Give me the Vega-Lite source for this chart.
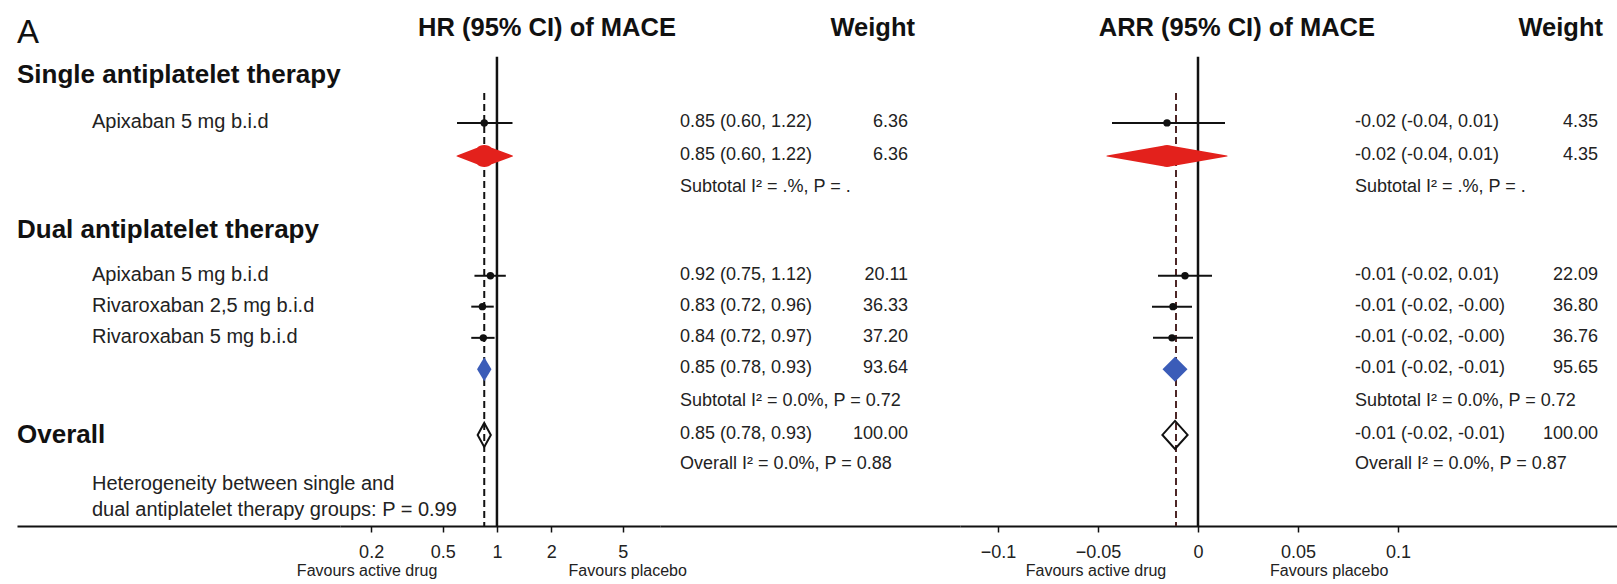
{
  "$schema": "https://vega.github.io/schema/vega-lite/v6.json",
  "background": "white",
  "padding": {"left": 17, "top": 0, "right": 0, "bottom": 0},
  "bounds": "flush",
  "spacing": 0,
  "config": {
    "view": {"stroke": null},
    "font": "Liberation Sans",
    "axis": {"grid": false, "domainColor": "#111", "domainWidth": 2, "tickColor": "#111", "tickWidth": 1.5, "tickSize": 6, "labelFont": "Liberation Sans", "labelFontSize": 18, "labelColor": "#222", "labelPadding": 11}
  },
  "datasets": {
    "labels": [
      {"row": -1.85, "text": "A", "kind": "letter"},
      {"row": -0.52, "text": "Single antiplatelet therapy", "kind": "group"},
      {"row": 1, "text": "Apixaban 5 mg b.i.d", "kind": "item"},
      {"row": 4.4, "text": "Dual antiplatelet therapy", "kind": "group"},
      {"row": 5.85, "text": "Apixaban 5 mg b.i.d", "kind": "item"},
      {"row": 6.83, "text": "Rivaroxaban 2,5 mg b.i.d", "kind": "item"},
      {"row": 7.82, "text": "Rivaroxaban 5 mg b.i.d", "kind": "item"},
      {"row": 10.9, "text": "Overall", "kind": "group"},
      {"row": 12.5, "text": "Heterogeneity between single and", "kind": "item"},
      {"row": 13.3, "text": "dual antiplatelet therapy groups: P = 0.99", "kind": "item"}
    ],
    "hrStudies": [
      {"row": 1, "est": 0.85, "lo": 0.60, "hi": 1.22},
      {"row": 5.85, "est": 0.92, "lo": 0.75, "hi": 1.12},
      {"row": 6.83, "est": 0.83, "lo": 0.72, "hi": 0.96},
      {"row": 7.82, "est": 0.84, "lo": 0.72, "hi": 0.97}
    ],
    "hrRed": [
      {"row": 2.05, "x": 0.60, "v": "end"},
      {"row": 2.05, "x": 0.85, "v": "mid"},
      {"row": 2.05, "x": 1.22, "v": "end"}
    ],
    "hrPooled": [
      {"row": 8.82, "est": 0.85, "kind": "dual"},
      {"row": 10.9, "est": 0.85, "kind": "overall"}
    ],
    "hrText": [
      {"row": 1, "est": "0.85 (0.60, 1.22)", "w": "6.36"},
      {"row": 2.05, "est": "0.85 (0.60, 1.22)", "w": "6.36"},
      {"row": 3.08, "est": "Subtotal  I² = .%, P = ."},
      {"row": 5.85, "est": "0.92 (0.75, 1.12)", "w": "20.11"},
      {"row": 6.83, "est": "0.83 (0.72, 0.96)", "w": "36.33"},
      {"row": 7.82, "est": "0.84 (0.72, 0.97)", "w": "37.20"},
      {"row": 8.82, "est": "0.85 (0.78, 0.93)", "w": "93.64"},
      {"row": 9.87, "est": "Subtotal  I² = 0.0%, P = 0.72"},
      {"row": 10.9, "est": "0.85 (0.78, 0.93)", "w": "100.00"},
      {"row": 11.87, "est": "Overall  I² = 0.0%, P = 0.88"}
    ],
    "arrStudies": [
      {"row": 1, "est": -0.0155, "lo": -0.043, "hi": 0.0135},
      {"row": 5.85, "est": -0.0065, "lo": -0.020, "hi": 0.007},
      {"row": 6.83, "est": -0.0125, "lo": -0.023, "hi": -0.003},
      {"row": 7.82, "est": -0.013, "lo": -0.0225, "hi": -0.0025}
    ],
    "arrRed": [
      {"row": 2.05, "x": -0.0455, "v": "end"},
      {"row": 2.05, "x": -0.0155, "v": "mid"},
      {"row": 2.05, "x": 0.0145, "v": "end"}
    ],
    "arrPooled": [
      {"row": 8.82, "est": -0.0115, "kind": "dual"},
      {"row": 10.9, "est": -0.0115, "kind": "overall"}
    ],
    "arrText": [
      {"row": 1, "est": "-0.02 (-0.04, 0.01)", "w": "4.35"},
      {"row": 2.05, "est": "-0.02 (-0.04, 0.01)", "w": "4.35"},
      {"row": 3.08, "est": "Subtotal  I² = .%, P = ."},
      {"row": 5.85, "est": "-0.01 (-0.02, 0.01)", "w": "22.09"},
      {"row": 6.83, "est": "-0.01 (-0.02, -0.00)", "w": "36.80"},
      {"row": 7.82, "est": "-0.01 (-0.02, -0.00)", "w": "36.76"},
      {"row": 8.82, "est": "-0.01 (-0.02, -0.01)", "w": "95.65"},
      {"row": 9.87, "est": "Subtotal  I² = 0.0%, P = 0.72"},
      {"row": 10.9, "est": "-0.01 (-0.02, -0.01)", "w": "100.00"},
      {"row": 11.87, "est": "Overall  I² = 0.0%, P = 0.87"}
    ]
  },
  "hconcat": [
    {
      "width": 323, "height": 526,
      "data": {"name": "labels"},
      "layer": [
        {
          "transform": [{"filter": "datum.kind === 'group'"}],
          "mark": {"type": "text", "align": "left", "baseline": "middle", "font": "Liberation Sans", "fontSize": 26, "fontWeight": "bold", "color": "#111"},
          "encoding": {
            "x": {"datum": 0, "type": "quantitative", "scale": {"domain": [0, 1], "nice": false, "zero": false}, "axis": {"labels": false, "ticks": false, "title": null}},
            "y": {"field": "row", "type": "quantitative", "scale": {"domain": [-2.9, 13.79], "reverse": true, "nice": false, "zero": false}, "axis": null},
            "text": {"field": "text"}
          }
        },
        {
          "transform": [{"filter": "datum.kind === 'item'"}],
          "mark": {"type": "text", "align": "left", "baseline": "middle", "font": "Liberation Sans", "fontSize": 20, "color": "#222", "dy": -1},
          "encoding": {
            "x": {"datum": 0.232, "type": "quantitative"},
            "y": {"field": "row", "type": "quantitative"},
            "text": {"field": "text"}
          }
        },
        {
          "transform": [{"filter": "datum.kind === 'letter'"}],
          "mark": {"type": "text", "align": "left", "baseline": "middle", "font": "Liberation Sans", "fontSize": 33, "color": "#111"},
          "encoding": {
            "x": {"datum": 0, "type": "quantitative"},
            "y": {"field": "row", "type": "quantitative"},
            "text": {"field": "text"}
          }
        }
      ]
    },
    {
      "width": 320, "height": 526,
      "layer": [
        {
          "data": {"values": [{}]},
          "mark": {"type": "rule", "color": "#111", "strokeWidth": 2.5},
          "encoding": {
            "x": {"datum": 1, "type": "quantitative", "scale": {"type": "log", "domain": [0.1343, 8.05], "nice": false}, "axis": {"values": [0.2, 0.5, 1, 2, 5], "format": "~g", "title": null}},
            "y": {"datum": -1.1, "type": "quantitative", "scale": {"domain": [-2.9, 13.79], "reverse": true, "nice": false, "zero": false}, "axis": null},
            "y2": {"datum": 13.79}
          }
        },
        {
          "data": {"values": [{}]},
          "mark": {"type": "rule", "color": "#111", "strokeWidth": 2, "strokeDash": [7, 4]},
          "encoding": {
            "x": {"datum": 0.85, "type": "quantitative"},
            "y": {"datum": 0.05, "type": "quantitative"},
            "y2": {"datum": 13.79}
          }
        },
        {
          "data": {"name": "hrStudies"},
          "mark": {"type": "rule", "color": "#111", "strokeWidth": 2},
          "encoding": {
            "x": {"field": "lo", "type": "quantitative", "title": null},
            "x2": {"field": "hi"},
            "y": {"field": "row", "type": "quantitative"}
          }
        },
        {
          "data": {"name": "hrStudies"},
          "mark": {"type": "point", "filled": true, "color": "#111", "size": 55, "opacity": 1},
          "encoding": {
            "x": {"field": "est", "type": "quantitative", "title": null},
            "y": {"field": "row", "type": "quantitative"}
          }
        },
        {
          "data": {"name": "hrRed"},
          "mark": {"type": "trail", "color": "#e3211c"},
          "encoding": {
            "x": {"field": "x", "type": "quantitative", "title": null},
            "y": {"field": "row", "type": "quantitative"},
            "size": {"field": "v", "type": "ordinal", "scale": {"domain": ["end", "mid"], "range": [0, 22]}, "legend": null},
            "order": {"field": "x", "type": "quantitative"}
          }
        },
        {
          "data": {"name": "hrPooled"},
          "transform": [{"filter": "datum.kind === 'dual'"}],
          "mark": {"type": "point", "filled": true, "color": "#3b5cb8", "opacity": 1, "size": 576, "shape": "M0,-1L0.6,0L0,1L-0.6,0Z"},
          "encoding": {
            "x": {"field": "est", "type": "quantitative", "title": null},
            "y": {"field": "row", "type": "quantitative"}
          }
        },
        {
          "data": {"name": "hrPooled"},
          "transform": [{"filter": "datum.kind === 'overall'"}],
          "mark": {"type": "point", "filled": false, "color": "#111", "strokeWidth": 2, "opacity": 1, "size": 576, "shape": "M0,-1L0.55,0L0,1L-0.55,0Z"},
          "encoding": {
            "x": {"field": "est", "type": "quantitative", "title": null},
            "y": {"field": "row", "type": "quantitative"}
          }
        },
        {
          "data": {"values": [{}]},
          "mark": {"type": "text", "font": "Liberation Sans", "fontSize": 16, "color": "#222", "align": "center", "baseline": "middle"},
          "encoding": {
            "x": {"datum": 0.19, "type": "quantitative"},
            "y": {"datum": 15.22, "type": "quantitative"},
            "text": {"value": "Favours active drug"}
          }
        },
        {
          "data": {"values": [{}]},
          "mark": {"type": "text", "font": "Liberation Sans", "fontSize": 16, "color": "#222", "align": "left", "baseline": "middle"},
          "encoding": {
            "x": {"datum": 2.5, "type": "quantitative"},
            "y": {"datum": 15.22, "type": "quantitative"},
            "text": {"value": "Favours placebo"}
          }
        }
      ]
    },
    {
      "width": 300, "height": 526,
      "data": {"name": "hrText"},
      "layer": [
        {
          "mark": {"type": "text", "align": "left", "baseline": "middle", "font": "Liberation Sans", "fontSize": 18, "color": "#222", "dy": -1},
          "encoding": {
            "x": {"datum": 0.0667, "type": "quantitative", "scale": {"domain": [0, 1], "nice": false, "zero": false}, "axis": {"labels": false, "ticks": false, "title": null}},
            "y": {"field": "row", "type": "quantitative", "scale": {"domain": [-2.9, 13.79], "reverse": true, "nice": false, "zero": false}, "axis": null},
            "text": {"field": "est"}
          }
        },
        {
          "transform": [{"filter": "isValid(datum.w)"}],
          "mark": {"type": "text", "align": "right", "baseline": "middle", "font": "Liberation Sans", "fontSize": 18, "color": "#222", "dy": -1},
          "encoding": {
            "x": {"datum": 0.827, "type": "quantitative"},
            "y": {"field": "row", "type": "quantitative"},
            "text": {"field": "w"}
          }
        },
        {
          "data": {"values": [{}]},
          "mark": {"type": "text", "align": "right", "baseline": "middle", "font": "Liberation Sans", "fontSize": 25.5, "fontWeight": "bold", "color": "#111"},
          "encoding": {
            "x": {"datum": 0.053, "type": "quantitative"},
            "y": {"datum": -2.0, "type": "quantitative"},
            "text": {"value": "HR (95% CI) of MACE"}
          }
        },
        {
          "data": {"values": [{}]},
          "mark": {"type": "text", "align": "right", "baseline": "middle", "font": "Liberation Sans", "fontSize": 25.5, "fontWeight": "bold", "color": "#111"},
          "encoding": {
            "x": {"datum": 0.85, "type": "quantitative"},
            "y": {"datum": -2.0, "type": "quantitative"},
            "text": {"value": "Weight"}
          }
        }
      ]
    },
    {
      "width": 657, "height": 526,
      "layer": [
        {
          "data": {"values": [{}]},
          "mark": {"type": "rule", "color": "#111", "strokeWidth": 2.5},
          "encoding": {
            "x": {"datum": 0, "type": "quantitative", "scale": {"domain": [-0.119, 0.2095], "nice": false, "zero": false}, "axis": {"values": [-0.1, -0.05, 0, 0.05, 0.1], "format": "~g", "title": null}},
            "y": {"datum": -1.1, "type": "quantitative", "scale": {"domain": [-2.9, 13.79], "reverse": true, "nice": false, "zero": false}, "axis": null},
            "y2": {"datum": 13.79}
          }
        },
        {
          "data": {"values": [{}]},
          "mark": {"type": "rule", "color": "#4d2626", "strokeWidth": 2, "strokeDash": [7, 4]},
          "encoding": {
            "x": {"datum": -0.011, "type": "quantitative"},
            "y": {"datum": 0.05, "type": "quantitative"},
            "y2": {"datum": 13.79}
          }
        },
        {
          "data": {"name": "arrStudies"},
          "mark": {"type": "rule", "color": "#111", "strokeWidth": 2},
          "encoding": {
            "x": {"field": "lo", "type": "quantitative", "title": null},
            "x2": {"field": "hi"},
            "y": {"field": "row", "type": "quantitative"}
          }
        },
        {
          "data": {"name": "arrStudies"},
          "mark": {"type": "point", "filled": true, "color": "#111", "size": 55, "opacity": 1},
          "encoding": {
            "x": {"field": "est", "type": "quantitative", "title": null},
            "y": {"field": "row", "type": "quantitative"}
          }
        },
        {
          "data": {"name": "arrRed"},
          "mark": {"type": "trail", "color": "#e3211c"},
          "encoding": {
            "x": {"field": "x", "type": "quantitative", "title": null},
            "y": {"field": "row", "type": "quantitative"},
            "size": {"field": "v", "type": "ordinal", "scale": {"domain": ["end", "mid"], "range": [0, 24]}, "legend": null},
            "order": {"field": "x", "type": "quantitative"}
          }
        },
        {
          "data": {"name": "arrPooled"},
          "transform": [{"filter": "datum.kind === 'dual'"}],
          "mark": {"type": "point", "filled": true, "color": "#3b5cb8", "opacity": 1, "size": 625, "shape": "M0,-1L1,0L0,1L-1,0Z"},
          "encoding": {
            "x": {"field": "est", "type": "quantitative", "title": null},
            "y": {"field": "row", "type": "quantitative"}
          }
        },
        {
          "data": {"name": "arrPooled"},
          "transform": [{"filter": "datum.kind === 'overall'"}],
          "mark": {"type": "point", "filled": false, "color": "#111", "strokeWidth": 2, "opacity": 1, "size": 784, "shape": "M0,-1L0.9,0L0,1L-0.9,0Z"},
          "encoding": {
            "x": {"field": "est", "type": "quantitative", "title": null},
            "y": {"field": "row", "type": "quantitative"}
          }
        },
        {
          "data": {"name": "arrText"},
          "mark": {"type": "text", "align": "left", "baseline": "middle", "font": "Liberation Sans", "fontSize": 18, "color": "#222", "dy": -1},
          "encoding": {
            "x": {"datum": 0.0785, "type": "quantitative"},
            "y": {"field": "row", "type": "quantitative"},
            "text": {"field": "est"}
          }
        },
        {
          "data": {"name": "arrText"},
          "transform": [{"filter": "isValid(datum.w)"}],
          "mark": {"type": "text", "align": "right", "baseline": "middle", "font": "Liberation Sans", "fontSize": 18, "color": "#222", "dy": -1},
          "encoding": {
            "x": {"datum": 0.2, "type": "quantitative"},
            "y": {"field": "row", "type": "quantitative"},
            "text": {"field": "w"}
          }
        },
        {
          "data": {"values": [{}]},
          "mark": {"type": "text", "align": "right", "baseline": "middle", "font": "Liberation Sans", "fontSize": 25.5, "fontWeight": "bold", "color": "#111"},
          "encoding": {
            "x": {"datum": 0.0885, "type": "quantitative"},
            "y": {"datum": -2.0, "type": "quantitative"},
            "text": {"value": "ARR (95% CI) of MACE"}
          }
        },
        {
          "data": {"values": [{}]},
          "mark": {"type": "text", "align": "right", "baseline": "middle", "font": "Liberation Sans", "fontSize": 25.5, "fontWeight": "bold", "color": "#111"},
          "encoding": {
            "x": {"datum": 0.2025, "type": "quantitative"},
            "y": {"datum": -2.0, "type": "quantitative"},
            "text": {"value": "Weight"}
          }
        },
        {
          "data": {"values": [{}]},
          "mark": {"type": "text", "font": "Liberation Sans", "fontSize": 16, "color": "#222", "align": "center", "baseline": "middle"},
          "encoding": {
            "x": {"datum": -0.051, "type": "quantitative"},
            "y": {"datum": 15.22, "type": "quantitative"},
            "text": {"value": "Favours active drug"}
          }
        },
        {
          "data": {"values": [{}]},
          "mark": {"type": "text", "font": "Liberation Sans", "fontSize": 16, "color": "#222", "align": "left", "baseline": "middle"},
          "encoding": {
            "x": {"datum": 0.036, "type": "quantitative"},
            "y": {"datum": 15.22, "type": "quantitative"},
            "text": {"value": "Favours placebo"}
          }
        }
      ]
    }
  ]
}
